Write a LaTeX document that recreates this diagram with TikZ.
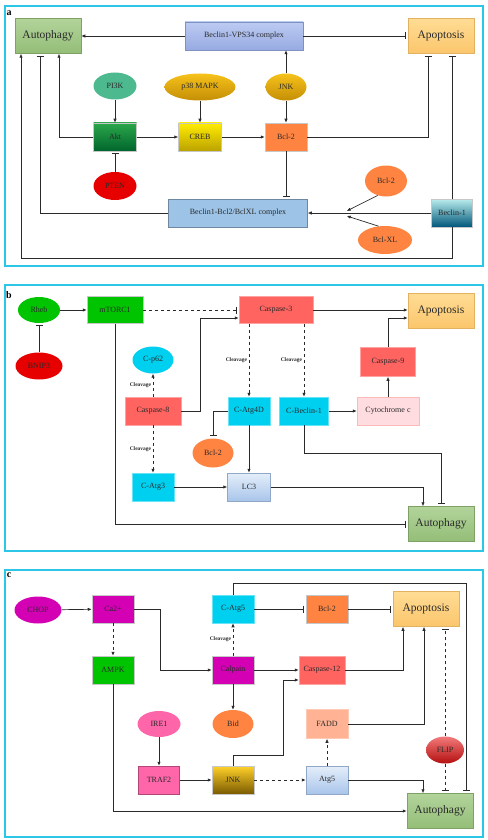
\documentclass[tikz,border=0pt]{standalone}
\usepackage{fontspec}
\setmainfont{Liberation Serif}
\usepackage{xcolor}
\usetikzlibrary{calc,positioning,shapes.geometric,arrows.meta}

\definecolor{framecyan}{HTML}{2CC6E6}
\definecolor{inkgray}{HTML}{2A2A2A}
\definecolor{autotop}{HTML}{B2D39A}
\definecolor{autobot}{HTML}{94BE78}
\definecolor{apotop}{HTML}{FFDC94}
\definecolor{apobot}{HTML}{FBC66C}
\definecolor{vpstop}{HTML}{BCCBF2}
\definecolor{vpsbot}{HTML}{97AAE2}
\definecolor{pikgreen}{HTML}{4DB98F}
\definecolor{goldtop}{HTML}{F6C21A}
\definecolor{goldbot}{HTML}{C48E06}
\definecolor{akttop}{HTML}{2BA74B}
\definecolor{aktbot}{HTML}{00652D}
\definecolor{crebtop}{HTML}{FFEC00}
\definecolor{crebbot}{HTML}{BBA200}
\definecolor{bclorange}{HTML}{FF8442}
\definecolor{ptenred}{HTML}{E60000}
\definecolor{cplxblue}{HTML}{9DC3E6}
\definecolor{becltop}{HTML}{B9EDEC}
\definecolor{beclbot}{HTML}{00567A}
\definecolor{mtorgreen}{HTML}{00C400}
\definecolor{caspsalmon}{HTML}{FF6461}
\definecolor{cleavecyan}{HTML}{00D0F0}
\definecolor{cytpink}{HTML}{FFDCE0}
\definecolor{lctop}{HTML}{E4EEFA}
\definecolor{lcbot}{HTML}{A9C5EA}
\definecolor{camagenta}{HTML}{D400B4}
\definecolor{irepink}{HTML}{FF66AA}
\definecolor{faddsalmon}{HTML}{FFB394}
\definecolor{fliptop}{HTML}{F27A7A}
\definecolor{flipbot}{HTML}{B40F0F}
\definecolor{jnktop}{HTML}{FFD12A}
\definecolor{jnkbot}{HTML}{7A5A00}

\tikzset{
  sz/.style 2 args={minimum width=#1pt, minimum height=#2pt},
  cell/.style={rectangle, inner sep=0pt, draw=black!22, line width=0.5pt,
    text=inkgray, font=\fontsize{8}{9}\selectfont},
  blob/.style={ellipse, inner sep=0pt, draw=none,
    text=inkgray, font=\fontsize{8}{9}\selectfont},
  fate/.style={cell, sz={66}{35}, font=\fontsize{11.5}{13}\selectfont},
  autobox/.style={fate, top color=autotop, bottom color=autobot, draw=autobot!85!black},
  apobox/.style={fate, top color=apotop, bottom color=apobot, draw=apobot!90!black},
  act/.style={draw=inkgray, line width=0.7pt, -{Latex[length=4pt,width=3.4pt]}},
  inh/.style={draw=inkgray, line width=0.7pt, -{Bar[width=7pt,line width=0.9pt]}, shorten >=2pt},
  cleave/.style={font=\bfseries\fontsize{5.5}{6}\selectfont, text=inkgray, inner sep=1.5pt},
  panel/.style={draw=framecyan, line width=1.3pt},
  tag/.style={font=\bfseries\fontsize{10}{11}\selectfont, inner sep=0pt}
}

\begin{document}
\begin{tikzpicture}[x=1pt, y=-1pt]
  \useasboundingbox (0,0) rectangle (487,840);

  % ---------------- panel a ----------------
  \draw[panel] (5,6) rectangle (483,266);
  \node[tag] (tagA) at (9,13) {a};

  \node[autobox] (autoA) at (48,36) {Autophagy};
  \node[cell, sz={118}{28}, top color=vpstop, bottom color=vpsbot, draw=vpsbot!85!black] (vps) at (244,36) {Beclin1-VPS34 complex};
  \node[apobox] (apoA) at (441,36) {Apoptosis};

  \node[blob, sz={43}{27}, fill=pikgreen] (pi3k) at (115,86) {PI3K};
  \node[blob, sz={71}{27}, top color=goldtop, bottom color=goldbot] (p38) at (200,87) {p38 MAPK};
  \node[blob, sz={41}{27}, top color=goldtop, bottom color=goldbot] (jnkA) at (286,87) {JNK};

  \node[cell, sz={43}{28}, top color=akttop, bottom color=aktbot] (akt) at (115,137) {Akt};
  \node[cell, sz={43}{28}, top color=crebtop, bottom color=crebbot] (creb) at (200,137) {CREB};
  \node[cell, sz={42}{28}, fill=bclorange] (bclA) at (286,137) {Bcl-2};

  \node[blob, sz={43}{28}, fill=ptenred] (pten) at (115,186) {PTEN};
  \node[cell, sz={139}{28}, fill=cplxblue, draw=cplxblue!70!black] (cplx) at (238,213) {Beclin1-Bcl2/BclXL complex};
  \node[blob, sz={42}{31}, fill=bclorange] (bclE) at (386,181) {Bcl-2};
  \node[blob, sz={54}{28}, fill=bclorange] (bclxl) at (385,240) {Bcl-XL};
  \node[cell, sz={41}{28}, top color=becltop, bottom color=beclbot] (becl) at (452,213) {Beclin-1};

  \coordinate (meetU) at ([xshift=39pt,yshift=2pt]cplx.east);
  \coordinate (meetD) at ([xshift=39pt,yshift=-3pt]cplx.east);

  \draw[act] (vps) -- (autoA);
  \draw[inh] (vps) -- (apoA);
  \draw[act] (pi3k) -- (akt);
  \draw[act] (p38) -- (creb);
  \draw[act] (jnkA) -- (bclA);
  \draw[act] (jnkA.north) -- (jnkA.north |- vps.south);
  \draw[act] (akt) -- (creb);
  \draw[act] (creb) -- (bclA);
  \draw[inh] (pten) -- (akt);
  \draw[act] (akt.west) -| ([xshift=11pt]autoA.south);
  \draw[inh] (bclA.east) -| ([xshift=-13pt]apoA.south);
  \draw[inh] (bclA) -- (bclA.south |- cplx.north);
  \draw[inh] (cplx.west) -| ([xshift=-8pt]autoA.south);
  \draw[act] (becl) -- (cplx);
  \draw[act] (bclE.240) -- (meetU);
  \draw[act] (bclxl.115) -- (meetD);
  \draw[inh] (becl.north) -- (becl.north |- apoA.south);
  \draw[act] (becl.south) -- ++(0,31) -| ([xshift=-27pt]autoA.south);

  % ---------------- panel b ----------------
  \draw[panel] (5,285) rectangle (483,551);
  \node[tag] (tagB) at (9,295) {b};

  \node[blob, sz={42}{26}, fill=mtorgreen] (rheb) at (39,310) {Rheb};
  \node[cell, sz={56}{27}, fill=mtorgreen] (mtor) at (115,310) {mTORC1};
  \node[cell, sz={74}{27}, fill=caspsalmon, draw=caspsalmon!60] (caspC) at (276,310) {Caspase-3};
  \node[apobox] (apoB) at (441,311) {Apoptosis};
  \node[blob, sz={47}{27}, fill=ptenred] (bnip) at (39,366) {BNIP3};
  \node[blob, sz={41}{27}, fill=cleavecyan] (pSixtwo) at (153,360) {C-p62};
  \node[cell, sz={55}{29}, fill=caspsalmon, draw=caspsalmon!60] (caspN) at (388,362) {Caspase-9};
  \node[cell, sz={56}{28}, fill=caspsalmon, draw=caspsalmon!60] (caspE) at (153,411) {Caspase-8};
  \node[cell, sz={42}{28}, fill=cleavecyan, draw=cleavecyan!60] (atgFD) at (249,411) {C-Atg4D};
  \node[cell, sz={49}{28}, fill=cleavecyan, draw=cleavecyan!60] (cbec) at (304,411) {C-Beclin-1};
  \node[cell, sz={62}{28}, fill=cytpink, draw=caspsalmon!45] (cytc) at (388,411) {Cytochrome c};
  \node[blob, sz={41}{29}, fill=bclorange] (bclB) at (213,453) {Bcl-2};
  \node[cell, sz={42}{28}, fill=cleavecyan, draw=cleavecyan!60] (atgT) at (153,487) {C-Atg3};
  \node[cell, sz={43}{28}, top color=lctop, bottom color=lcbot, draw=lcbot!85!black] (lcT) at (249,487) {LC3};
  \node[autobox] (autoB) at (441,524) {Autophagy};

  \draw[act] (rheb) -- (mtor);
  \draw[inh, dashed] (mtor) -- (caspC);
  \draw[act] (caspC) -- (caspC -| apoB.west);
  \draw[inh] (bnip) -- (rheb);
  \draw[act, dashed] (caspE) -- node[cleave, left] {Cleavage} (pSixtwo);
  \draw[act] (caspE.east) -- ++(19,0) |- ([yshift=-8pt]caspC.west);
  \draw[act, dashed] ([xshift=-27pt]caspC.south) -- node[cleave, left] {Cleavage} (atgFD.north);
  \draw[act, dashed] ([xshift=28pt]caspC.south) -- node[cleave, left] {Cleavage} (cbec.north);
  \draw[act] (cbec) -- (cytc);
  \draw[act] (cytc) -- (caspN);
  \draw[act] (caspN.north) |- ([yshift=-7pt]apoB.west);
  \draw[inh] (atgFD.west) -| (bclB.north);
  \draw[act] (atgFD) -- (lcT);
  \draw[act, dashed] (caspE) -- node[cleave, left] {Cleavage} (atgT);
  \draw[act] (atgT) -- (lcT);
  \draw[act] (lcT.east) -| ([xshift=-18pt]autoB.north);
  \draw[inh] (cbec.south) -- ++(0,28) -| (autoB.north);
  \draw[inh] (mtor.south) |- (autoB.west);

  % ---------------- panel c ----------------
  \draw[panel] (5,570) rectangle (483,837);
  \node[tag] (tagC) at (9,575) {c};

  \node[blob, sz={47}{27}, fill=camagenta] (chop) at (38,610) {CHOP};
  \node[cell, sz={42}{28}, fill=camagenta] (calc) at (113,609) {Ca2+};
  \node[cell, sz={42}{28}, fill=cleavecyan, draw=cleavecyan!60] (catgF) at (233,609) {C-Atg5};
  \node[cell, sz={42}{28}, fill=bclorange] (bclC) at (327,609) {Bcl-2};
  \node[apobox] (apoC) at (426,609) {Apoptosis};
  \node[cell, sz={42}{28}, fill=mtorgreen] (ampk) at (113,670) {AMPK};
  \node[cell, sz={42}{28}, fill=camagenta] (calp) at (233,670) {Calpain};
  \node[cell, sz={46}{28}, fill=caspsalmon, draw=caspsalmon!60] (caspTw) at (322,670) {Caspase-12};
  \node[blob, sz={43}{26}, fill=irepink] (ire) at (159,724) {IRE1};
  \node[blob, sz={41}{28}, fill=bclorange] (bid) at (233,724) {Bid};
  \node[cell, sz={42}{29}, fill=faddsalmon, draw=faddsalmon!70] (fadd) at (327,724) {FADD};
  \node[blob, sz={38}{27}, top color=fliptop, bottom color=flipbot] (flip) at (445,750) {FLIP};
  \node[cell, sz={41}{28}, fill=irepink, draw=irepink!70!black] (traf) at (159,780) {TRAF2};
  \node[cell, sz={42}{28}, top color=jnktop, bottom color=jnkbot] (jnkC) at (233,780) {JNK};
  \node[cell, sz={42}{28}, top color=lctop, bottom color=lcbot, draw=lcbot!85!black] (atgF) at (327,780) {Atg5};
  \node[autobox] (autoC) at (440,811) {Autophagy};

  \draw[act] (chop) -- (calc);
  \draw[inh] (catgF) -- (bclC);
  \draw[inh] (bclC) -- (apoC);
  \draw[inh] (catgF.north) -- ++(0,-11) -| ([xshift=26pt]autoC.north);
  \draw[act, dashed] (calc) -- (ampk);
  \draw[act] (calc.east) -- ++(26,0) |- (calp.west);
  \draw[act, dashed] (calp) -- node[cleave, left] {Cleavage} (catgF);
  \draw[act] (calp) -- (caspTw);
  \draw[act] (caspTw.east) -| ([xshift=-23pt]apoC.south);
  \draw[act] (calp) -- (bid);
  \draw[act] (jnkC.north) -- ++(0,-10) -- ++(50,0) |- ([yshift=-10pt]caspTw.west);
  \draw[act] (ire) -- (traf);
  \draw[act] (traf) -- (jnkC);
  \draw[act, dashed] (jnkC) -- (atgF);
  \draw[act, dashed] (atgF) -- (fadd);
  \draw[act] (fadd.east) -| ([xshift=-2pt]apoC.south);
  \draw[inh, dashed] (flip.north) -- (flip.north |- apoC.south);
  \draw[inh, dashed] (flip.south) -- (flip.south |- autoC.north);
  \draw[act] (atgF.east) -| ([xshift=-17pt]autoC.north);
  \draw[act] (ampk.south) |- (autoC.west);
\end{tikzpicture}
\end{document}
